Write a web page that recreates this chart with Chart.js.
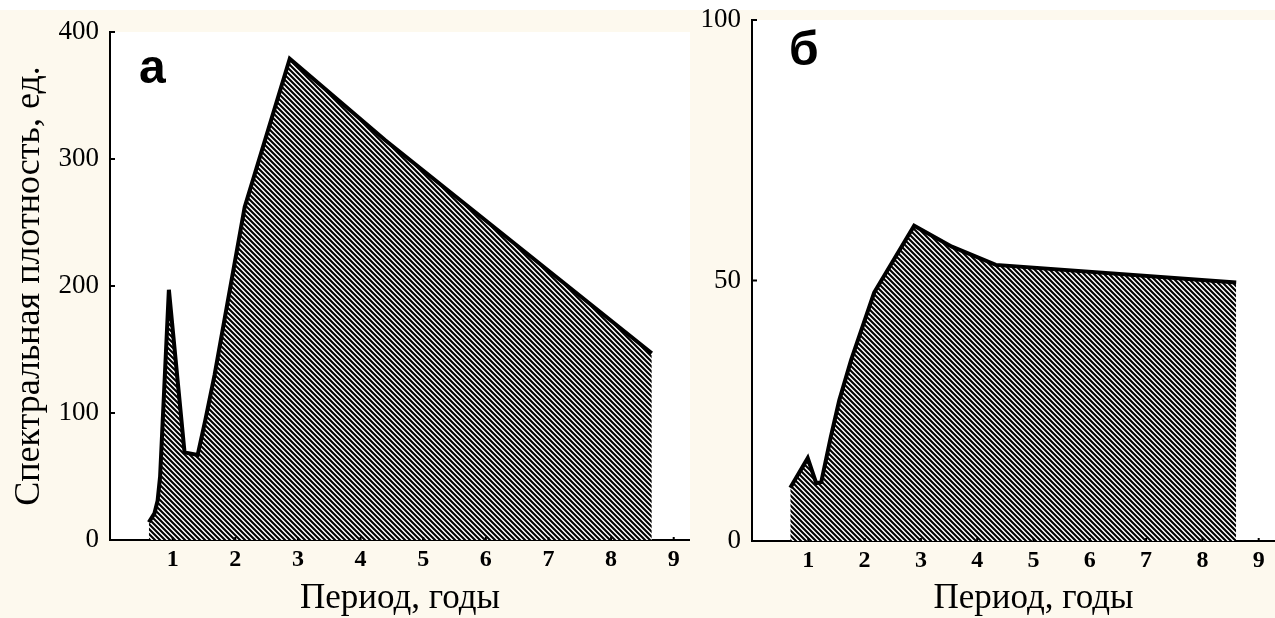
<!DOCTYPE html>
<html>
<head>
<meta charset="utf-8">
<script src="https://cdn.jsdelivr.net/npm/chart.js@4/dist/chart.umd.min.js"></script>
<style>
  html, body { margin: 0; padding: 0; width: 1275px; height: 618px; overflow: hidden; background: #fdf9ee; }
  #top { position: absolute; left: 0; top: 0; width: 1275px; height: 10px; background: #fff; }
  #boxA { position: absolute; left: 0; top: 0; width: 690px; height: 618px; }
  #boxB { position: absolute; left: 690px; top: 0; width: 625px; height: 618px; }
  .tag { position: absolute; font-family: "Liberation Sans", Arial, sans-serif; font-weight: bold; font-size: 48px; line-height: 1; color: #000; }
</style>
</head>
<body>
<div id="top"></div>
<div id="boxA"><canvas id="chartA"></canvas></div>
<div id="boxB"><canvas id="chartB"></canvas></div>
<div class="tag" style="left:139px; top:43px;">а</div>
<div class="tag" style="left:789px; top:25px;">б</div>
<script>
// panel а
var periodA = [0.62, 0.71, 0.76, 0.80, 0.94, 1.19, 1.40, 1.52, 1.67, 2.15, 2.87, 4.39, 8.65];
var densityA = [14, 21, 31, 50, 197, 69, 67, 94, 130, 262, 379, 315, 147];
var yTicksA = [0, 100, 200, 300, 400];

// panel б
var periodB = [0.68, 0.99, 1.14, 1.23, 1.40, 1.55, 1.76, 2.17, 2.88, 3.55, 4.33, 8.60];
var densityB = [10.2, 15.9, 11.1, 11.3, 20, 27, 34.7, 47.7, 60.5, 56.5, 53, 49.6];
var yTicksB = [0, 50, 100];

var xTicks = [1, 2, 3, 4, 5, 6, 7, 8, 9];

var serif = '"Liberation Serif", "Times New Roman", serif';

function hatch() {
    var c = document.createElement('canvas');
    c.width = 5; c.height = 5;
    var g = c.getContext('2d');
    g.fillStyle = '#fff';
    g.fillRect(0, 0, 5, 5);
    g.strokeStyle = '#000';
    g.lineWidth = 2.1;
    g.beginPath();
    g.moveTo(-1, -1); g.lineTo(6, 6);
    g.moveTo(-1, 4); g.lineTo(1, 6);
    g.moveTo(4, -1); g.lineTo(6, 1);
    g.stroke();
    return g.createPattern(c, 'repeat');
}

var whiteArea = {
    id: 'whiteArea',
    beforeDraw: function (chart) {
        var a = chart.chartArea, ctx = chart.ctx;
        ctx.save();
        ctx.fillStyle = '#fff';
        ctx.fillRect(a.left, a.top, a.right - a.left, a.bottom - a.top);
        ctx.restore();
    }
};

// short tick marks pointing into the plot
var innerTicks = {
    id: 'innerTicks',
    afterDraw: function (chart) {
        var ctx = chart.ctx, x = chart.scales.x, y = chart.scales.y;
        ctx.save();
        ctx.strokeStyle = '#000';
        ctx.lineWidth = 2;
        ctx.beginPath();
        y.ticks.forEach(function (t) {
            var py = y.getPixelForValue(t.value);
            ctx.moveTo(x.left, py); ctx.lineTo(x.left + 5, py);
        });
        x.ticks.forEach(function (t) {
            var px = x.getPixelForValue(t.value);
            ctx.moveTo(px, y.bottom); ctx.lineTo(px, y.bottom - 3);
        });
        ctx.stroke();
        ctx.restore();
    }
};

function makeChart(id, periods, values, yTicks, opts) {
    var pts = periods.map(function (p, i) { return { x: p, y: values[i] }; });
    return new Chart(document.getElementById(id), {
        type: 'line',
        data: {
            datasets: [{
                data: pts,
                borderColor: '#000',
                borderWidth: 4,
                backgroundColor: hatch(),
                fill: 'origin',
                pointRadius: 0,
                tension: 0
            }]
        },
        options: {
            responsive: true,
            maintainAspectRatio: false,
            animation: false,
            layout: { padding: { top: opts.top, right: 0, bottom: 0, left: 0 } },
            plugins: { legend: { display: false }, tooltip: { enabled: false } },
            scales: {
                x: {
                    type: 'linear',
                    min: 0,
                    max: opts.xMax,
                    afterBuildTicks: function (s) {
                        s.ticks = xTicks.map(function (v) { return { value: v }; });
                    },
                    afterFit: function (s) { s.height = 618 - opts.bottom; },
                    grid: { display: false, drawTicks: false },
                    border: { display: true, color: '#000', width: 2 },
                    ticks: {
                        color: '#000',
                        padding: 5,
                        maxRotation: 0,
                        font: { family: serif, size: 24, weight: 'bold' }
                    },
                    title: {
                        display: true,
                        text: 'Период, годы',
                        color: '#000',
                        padding: { top: 4, bottom: 0 },
                        font: { family: serif, size: 35, lineHeight: 1.1 }
                    }
                },
                y: {
                    min: 0,
                    max: yTicks[yTicks.length - 1],
                    afterBuildTicks: function (s) {
                        s.ticks = yTicks.map(function (v) { return { value: v }; });
                    },
                    afterFit: function (s) {
                        s.width = opts.yWidth;
                        s.paddingTop = 0;
                        s.paddingBottom = 0;
                    },
                    grid: { display: false, drawTicks: false },
                    border: { display: true, color: '#000', width: 2 },
                    ticks: {
                        color: '#000',
                        padding: 11,
                        font: { family: serif, size: 27 }
                    },
                    title: {
                        display: !!opts.yTitle,
                        text: opts.yTitle || '',
                        color: '#000',
                        padding: { top: 10, bottom: 0 },
                        font: { family: serif, size: 36, lineHeight: 1.1 }
                    }
                }
            }
        },
        plugins: [whiteArea, innerTicks]
    });
}

makeChart('chartA', periodA, densityA, yTicksA, {
    top: 32, bottom: 540, xMax: 9.26, yWidth: 110,
    yTitle: 'Спектральная плотность, ед.'
});
makeChart('chartB', periodB, densityB, yTicksB, {
    top: 20, bottom: 541, xMax: 10, yWidth: 62
});
</script>
</body>
</html>
